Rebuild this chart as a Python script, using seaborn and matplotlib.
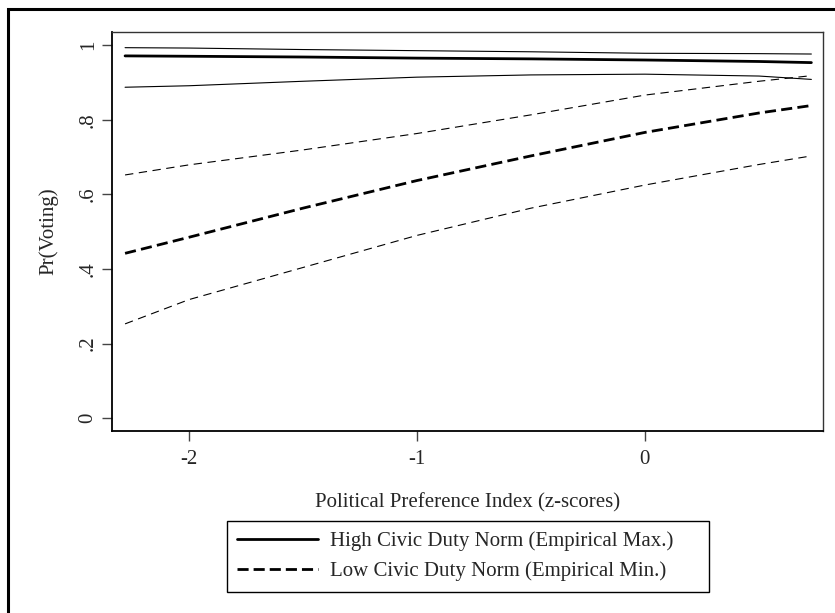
import matplotlib
matplotlib.use("Agg")
import matplotlib.pyplot as plt
import matplotlib.patches as mpatches
from matplotlib.lines import Line2D
import seaborn as sns
import pandas as pd

# ---- data ----
pref_index = [-2.28, -2.0, -1.5, -1.0, -0.5, 0.0, 0.5, 0.73]
high_mean  = [0.971, 0.970, 0.968, 0.965, 0.963, 0.960, 0.956, 0.953]
high_upper = [0.993, 0.992, 0.988, 0.985, 0.982, 0.978, 0.977, 0.976]
high_lower = [0.887, 0.891, 0.903, 0.914, 0.920, 0.922, 0.917, 0.908]
low_mean   = [0.442, 0.485, 0.563, 0.637, 0.703, 0.766, 0.818, 0.838]
low_upper  = [0.652, 0.679, 0.719, 0.763, 0.813, 0.866, 0.903, 0.918]
low_lower  = [0.253, 0.318, 0.404, 0.490, 0.563, 0.625, 0.680, 0.703]

x_ticks = [-2, -1, 0]
x_tick_labels = ["-2", "-1", "0"]
y_ticks = [0, 0.2, 0.4, 0.6, 0.8, 1.0]
y_tick_labels = ["0", ".2", ".4", ".6", ".8", "1"]
legend_labels = ["High Civic Duty Norm (Empirical Max.)",
                 "Low Civic Duty Norm (Empirical Min.)"]

df = pd.DataFrame({
    "x": pref_index,
    "high_mean": high_mean, "high_upper": high_upper, "high_lower": high_lower,
    "low_mean": low_mean, "low_upper": low_upper, "low_lower": low_lower,
})

sns.set_style("ticks")
plt.rcParams["font.family"] = ["Liberation Serif", "DejaVu Serif"]
plt.rcParams["lines.scale_dashes"] = False
FS = 15

fig = plt.figure(figsize=(8.35, 6.13), dpi=100)
ax = fig.add_axes([112.3 / 835, 1 - 430.7 / 613, (823 - 112.3) / 835, (430.7 - 32) / 613])

thin = 0.8
thick = 2.0
thin_dash = (0, (6.0, 4.0))
thick_dash = (0, (8.0, 3.8))

sns.lineplot(data=df, x="x", y="high_upper", ax=ax, color="black", lw=thin, legend=False)
sns.lineplot(data=df, x="x", y="high_lower", ax=ax, color="black", lw=thin, legend=False)
sns.lineplot(data=df, x="x", y="high_mean", ax=ax, color="black", lw=thick, legend=False)
sns.lineplot(data=df, x="x", y="low_upper", ax=ax, color="black", lw=thin, linestyle=thin_dash, legend=False)
sns.lineplot(data=df, x="x", y="low_lower", ax=ax, color="black", lw=thin, linestyle=thin_dash, legend=False)
sns.lineplot(data=df, x="x", y="low_mean", ax=ax, color="black", lw=thick, linestyle=thick_dash, legend=False)

ax.set_xlim(-2.336, 0.781)
ax.set_ylim(-0.0332, 1.035)
ax.set_xticks(x_ticks)
ax.set_xticklabels(x_tick_labels, fontsize=FS)
ax.set_yticks(y_ticks)
ax.set_yticklabels(y_tick_labels, fontsize=FS, rotation=90, va="center", ha="right")
ax.tick_params(axis="x", direction="out", length=7, width=1.0, color="#444444", pad=7)
ax.tick_params(axis="y", direction="out", length=7, width=1.0, color="#444444", pad=3.5)

for s in ["left", "bottom"]:
    ax.spines[s].set_linewidth(1.3)
    ax.spines[s].set_color("black")
for s in ["top", "right"]:
    ax.spines[s].set_visible(True)
    ax.spines[s].set_linewidth(1.0)
    ax.spines[s].set_color("#333333")

ax.set_xlabel("Political Preference Index (z-scores)", fontsize=FS, labelpad=17)
ax.set_ylabel("Pr(Voting)", fontsize=FS, labelpad=15)

handles = [Line2D([], [], color="black", lw=thick),
           Line2D([], [], color="black", lw=thick, linestyle=(0, (8.0, 3.6)))]
leg = ax.legend(handles, legend_labels, loc="upper left",
                bbox_to_anchor=(227 / 835, 1 - 521 / 613, 482 / 835, 0),
                bbox_transform=fig.transFigure, mode="expand",
                fontsize=FS, handlelength=3.85, handletextpad=0.6,
                borderpad=0.5, labelspacing=0.5, borderaxespad=0,
                frameon=True, fancybox=False, shadow=False, framealpha=1)
leg.get_frame().set_edgecolor("black")
leg.get_frame().set_linewidth(1.0)

# outer graph-region frame
frame = mpatches.Rectangle((8 / 835, -0.2), 1.3, 1 - 8.5 / 613 + 0.2,
                           transform=fig.transFigure, fill=False,
                           edgecolor="black", lw=2.2, clip_on=False)
fig.patches.append(frame)

fig.savefig("out.png", dpi=100)
